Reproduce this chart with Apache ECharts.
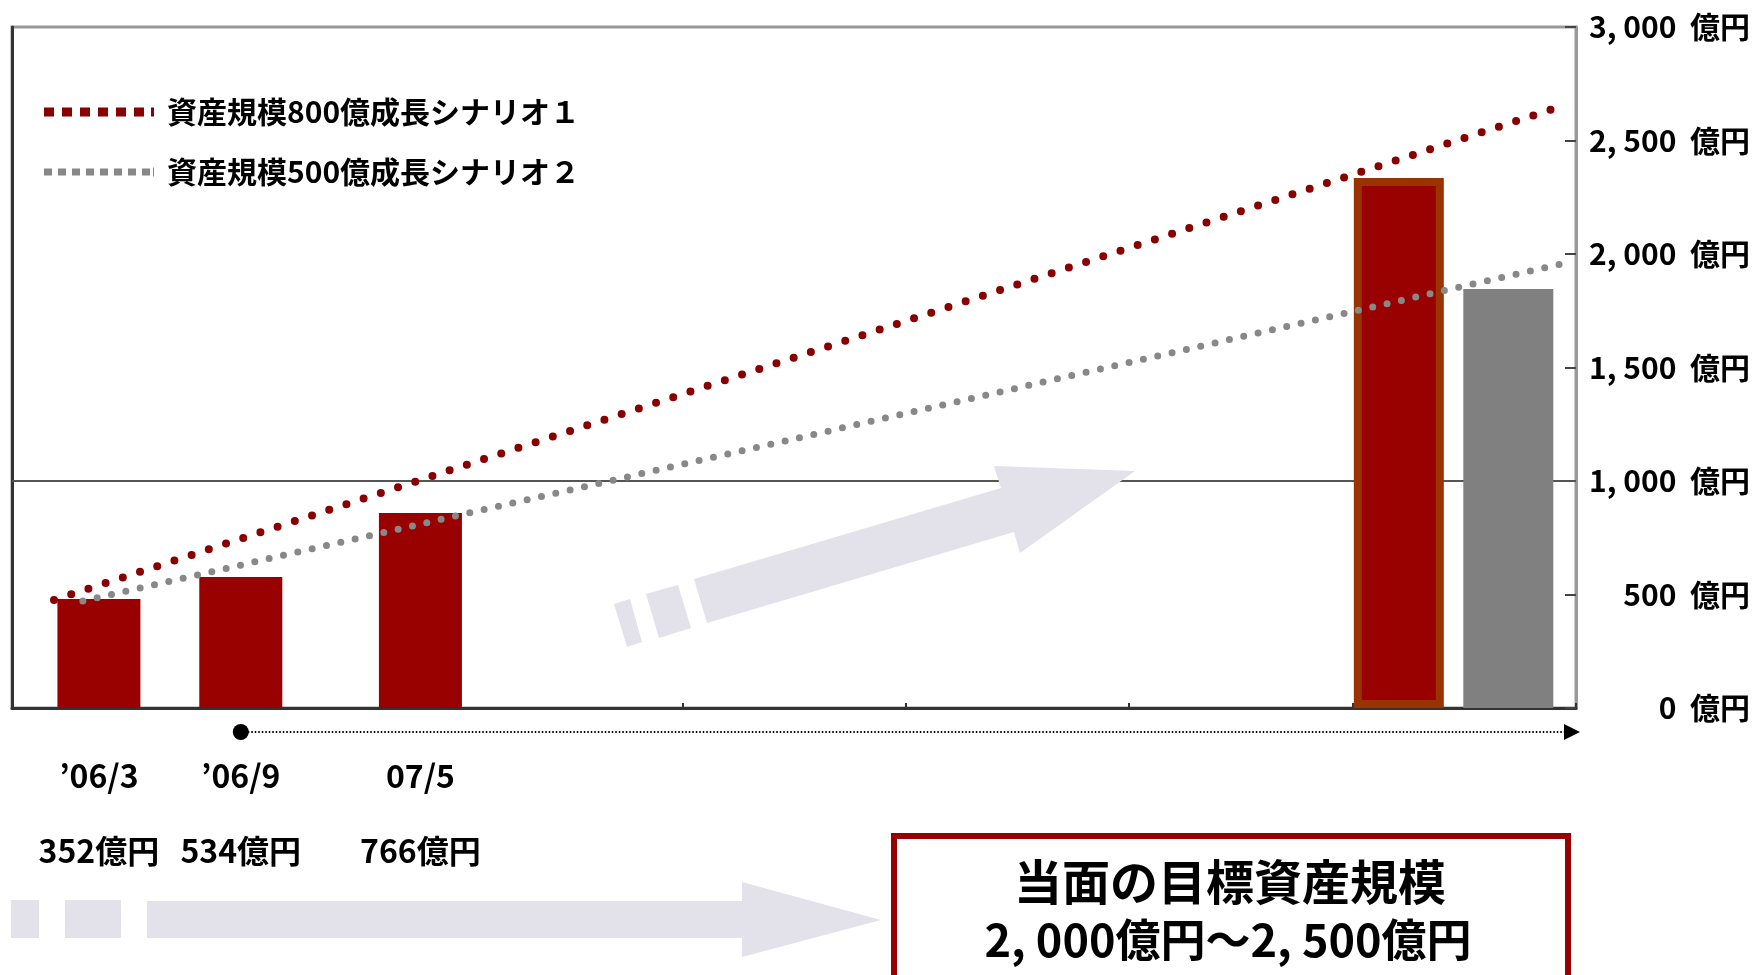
<!DOCTYPE html>
<html>
<head>
<meta charset="utf-8">
<script src="https://cdn.jsdelivr.net/npm/echarts@6/dist/echarts.min.js"></script>
<style>
  html, body { margin: 0; padding: 0; background: #fff; }
  #main { width: 1753px; height: 975px; }
</style>
</head>
<body>
<div id="main"></div>
<script>
// 実績バー (x はカテゴリ枠 0〜7 上の位置)
var periods = ['’06/3', '’06/9', '07/5'];
var amountLabels = ['352億円', '534億円', '766億円'];
var actualSlots = [0.389, 1.024, 1.828];
var actualValues = [480, 577, 859];

// 目標バー (シナリオ１, シナリオ２)
var targetSlots = [6.207, 6.697];
var targetValues = [2335, 1846];

// 成長シナリオ (始点・終点)
var scenarioNames = ['資産規模800億成長シナリオ１', '資産規模500億成長シナリオ２'];
var scenario1 = [[0.188, 476], [6.938, 2652]];
var scenario2 = [[0.317, 471], [6.973, 1965]];

var yTicks = [0, 500, 1000, 1500, 2000, 2500, 3000];
var targetTitle = '当面の目標資産規模';
var targetRange = '2, 000億円～2, 500億円';

var FONT = "'Noto Sans CJK JP', 'Noto Sans', sans-serif";
var LAVENDER = '#e3e1ea';

var chart = echarts.init(document.getElementById('main'));

function fmtNum(v) {
  return String(v).replace(/\B(?=(\d{3})+(?!\d))/g, ', ');
}

var actualData = actualSlots.map(function (s, i) {
  return {
    value: [s, actualValues[i]],
    label: {
      show: true,
      position: 'bottom',
      distance: 30,
      formatter: '{d|' + periods[i] + '}\n{v|' + amountLabels[i] + '}'
    }
  };
});

var targetData = [
  { value: [targetSlots[0], targetValues[0]], itemStyle: { color: '#990000', borderColor: '#993300', borderWidth: 8 } },
  { value: [targetSlots[1], targetValues[1]], itemStyle: { color: '#808080' } }
];

var hiddenX = {
  type: 'value', min: 0, max: 7, interval: 1, show: false
};

var option = {
  animation: false,
  textStyle: { fontFamily: FONT },
  grid: {
    left: 12, top: 27, right: 175, bottom: 267,
    show: true, borderColor: '#999', borderWidth: 3
  },
  legend: {
    orient: 'vertical',
    left: 39, top: 91,
    itemWidth: 110, itemHeight: 9,
    itemGap: 28,
    itemStyle: { borderWidth: 0 },
    textStyle: { fontSize: 30, fontWeight: 'bold', color: '#000', padding: [0, 0, 0, 8], lineHeight: 32 },
    data: [
      { name: scenarioNames[0], icon: 'path://M0,0h10v9h-10z M18,0h10v9h-10z M36,0h10v9h-10z M54,0h10v9h-10z M72,0h10v9h-10z M90,0h10v9h-10z M107,0h3v9h-3z' },
      { name: scenarioNames[1], icon: 'path://M0,1h8v7h-8z M14,1h8v7h-8z M28,1h8v7h-8z M42,1h8v7h-8z M56,1h8v7h-8z M70,1h8v7h-8z M84,1h8v7h-8z M98,1h8v7h-8z M109,0h1v9h-1z' }
    ]
  },
  xAxis: [{
    type: 'value', min: 0, max: 7, interval: 1,
    axisLine: { onZero: false, lineStyle: { color: '#333', width: 3 } },
    axisTick: { show: true, inside: true, length: 5, lineStyle: { color: '#333', width: 2 } },
    axisLabel: { show: false },
    splitLine: { show: false }
  }, hiddenX],
  yAxis: [{
    type: 'value', position: 'right', min: 0, max: 3000, interval: 500,
    axisLine: { show: true, onZero: false, lineStyle: { color: '#999', width: 3 } },
    axisTick: { show: true, inside: true, length: 11, lineStyle: { color: '#444', width: 2 } },
    axisLabel: {
      align: 'right', margin: 174,
      fontSize: 30, fontWeight: 'bold', color: '#000',
      formatter: function (v) { return fmtNum(v) + '  億円'; }
    },
    splitLine: { show: false }
  }, {
    type: 'value', position: 'left', min: 0, max: 3000, interval: 500,
    axisLine: { show: true, onZero: false, lineStyle: { color: '#333', width: 3 } },
    axisTick: { show: false },
    axisLabel: { show: false },
    splitLine: { show: false }
  }],
  series: [{
    type: 'line',
    z: 1,
    data: [],
    silent: true,
    markLine: {
      z: 1,
      symbol: 'none',
      silent: true,
      label: { show: false },
      lineStyle: { color: '#555', width: 2, type: 'solid' },
      data: [{ yAxis: yTicks[2] }]
    }
  }, {
    type: 'bar',
    z: 3,
    barWidth: 83,
    itemStyle: { color: '#990000' },
    label: {
      rich: {
        d: { fontSize: 32, fontWeight: 'bold', color: '#000', lineHeight: 75, fontFamily: FONT },
        v: { fontSize: 32, fontWeight: 'bold', color: '#000', lineHeight: 75, fontFamily: FONT }
      }
    },
    data: actualData
  }, {
    type: 'bar',
    xAxisIndex: 1,
    z: 3,
    barWidth: 90,
    data: targetData
  }, {
    name: scenarioNames[0],
    type: 'line',
    z: 4,
    symbol: 'none',
    itemStyle: { color: '#880000' },
    lineStyle: { color: '#880000', width: 8, type: [0, 18.1], cap: 'round' },
    data: scenario1
  }, {
    name: scenarioNames[1],
    type: 'line',
    z: 4,
    symbol: 'none',
    itemStyle: { color: '#888888' },
    lineStyle: { color: '#888888', width: 7, type: [0, 14.7], cap: 'round' },
    data: scenario2
  }]
};

chart.setOption(option);

// 装飾 (矢印・タイムライン・目標枠)
var lineStartX = chart.convertToPixel({ xAxisIndex: 0 }, actualSlots[1]);
var lineEndX = chart.convertToPixel({ xAxisIndex: 0 }, 7);
var baseY = chart.convertToPixel({ yAxisIndex: 0 }, 0) + 24;

chart.setOption({
  graphic: [
    { type: 'polygon', z: 2, silent: true, shape: { points: [[707, 623], [694, 579], [1001, 488], [994, 466], [1135, 471], [1020, 553], [1014, 532]] }, style: { fill: LAVENDER } },
    { type: 'polygon', z: 2, silent: true, shape: { points: [[646, 594], [678, 585], [691, 628], [659, 638]] }, style: { fill: LAVENDER } },
    { type: 'polygon', z: 2, silent: true, shape: { points: [[614, 604], [630, 599], [642, 642], [627, 647]] }, style: { fill: LAVENDER } },

    { type: 'rect', silent: true, shape: { x: 11, y: 900, width: 28, height: 38 }, style: { fill: LAVENDER } },
    { type: 'rect', silent: true, shape: { x: 65, y: 900, width: 56, height: 38 }, style: { fill: LAVENDER } },
    { type: 'polygon', silent: true, shape: { points: [[147, 901], [742, 901], [742, 882], [881, 920], [742, 957], [742, 938], [147, 938]] }, style: { fill: LAVENDER } },

    { type: 'line', silent: true, shape: { x1: lineStartX, y1: baseY, x2: lineEndX - 12, y2: baseY }, style: { stroke: '#000', lineWidth: 2, lineDash: [1.5, 2] } },
    { type: 'circle', silent: true, shape: { cx: lineStartX, cy: baseY, r: 8 }, style: { fill: '#000' } },
    { type: 'polygon', silent: true, shape: { points: [[lineEndX - 12, baseY - 8], [lineEndX + 4, baseY], [lineEndX - 12, baseY + 8]] }, style: { fill: '#000' } },

    { type: 'rect', silent: true, shape: { x: 894, y: 836, width: 674, height: 200 }, style: { fill: '#fff', stroke: '#990000', lineWidth: 6 } },
    { type: 'text', silent: true, x: 1230, y: 882, style: { text: targetTitle, font: 'bold 48px ' + FONT, fill: '#000', align: 'center', verticalAlign: 'middle' } },
    { type: 'text', silent: true, x: 1228, y: 940, style: { text: targetRange, font: 'bold 45px ' + FONT, fill: '#000', align: 'center', verticalAlign: 'middle' } }
  ]
});
</script>
</body>
</html>
